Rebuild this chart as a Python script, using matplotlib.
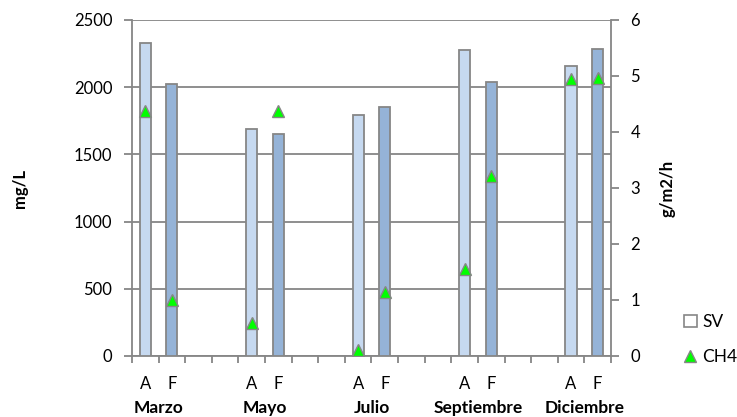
import matplotlib
matplotlib.use("Agg")
import matplotlib.pyplot as plt
from matplotlib.lines import Line2D
from matplotlib.patches import Patch
import numpy as np

plt.rcParams['font.family'] = ['Lato', 'DejaVu Sans']

# Sampling campaigns, each with an A and an F sample
months = ['Marzo', 'Mayo', 'Julio', 'Septiembre', 'Diciembre']
sample_labels = ['A', 'F']
sv_a = [2325, 1685, 1790, 2275, 2155]      # mg/L
sv_f = [2025, 1648, 1850, 2040, 2282]      # mg/L
ch4_a = [4.37, 0.59, 0.10, 1.55, 4.95]     # g/m2/h
ch4_f = [1.00, 4.38, 1.15, 3.22, 4.97]     # g/m2/h

GREY = '#868686'
slots_per_group = 4
n_slots = slots_per_group * (len(months) - 1) + 2

fig = plt.figure(figsize=(7.37, 4.17), dpi=100)
ax = fig.add_axes([0.179, 0.1463, 0.650, 0.806])

xa = np.arange(len(months)) * slots_per_group
xf = xa + 1
bw = 0.42
ax.bar(xa, sv_a, width=bw, color='#C6D9F0', edgecolor=GREY, linewidth=1.3, zorder=3)
ax.bar(xf, sv_f, width=bw, color='#95B3D7', edgecolor=GREY, linewidth=1.3, zorder=3)

ax.set_xlim(-0.5, n_slots - 0.5)
ax.set_ylim(0, 2500)
ax.set_yticks(np.arange(0, 2501, 500))
ax.yaxis.grid(True, color=GREY, linewidth=1.3, zorder=0)
ax.set_axisbelow(True)

# Category ticks: labels at slot centres, marks at slot boundaries
tick_labels = [''] * n_slots
for i in range(len(months)):
    tick_labels[xa[i]] = sample_labels[0]
    tick_labels[xf[i]] = sample_labels[1]
ax.set_xticks(np.arange(n_slots))
ax.set_xticklabels(tick_labels, fontsize=12)
ax.set_xticks(np.arange(n_slots + 1) - 0.5, minor=True)
ax.tick_params(axis='x', which='major', length=0, pad=14.5)
ax.tick_params(axis='x', which='minor', length=5, width=1.3, color=GREY, direction='out')
ax.tick_params(axis='y', length=6, width=1.3, color=GREY, labelsize=12, pad=8)

for s in ['left', 'bottom', 'right']:
    ax.spines[s].set_color(GREY)
    ax.spines[s].set_linewidth(1.3)
ax.spines['top'].set_visible(False)

for i, m in enumerate(months):
    ax.text((xa[i] + xf[i]) / 2, -0.155, m, transform=ax.get_xaxis_transform(),
            ha='center', va='center', fontsize=12.5, fontweight='bold')

ax.set_ylabel('mg/L', fontsize=12, fontweight='bold')
ax.yaxis.set_label_coords(-0.217, 0.5)

ax2 = ax.twinx()
ax2.set_ylim(0, 6)
ax2.set_yticks(np.arange(0, 7, 1))
ax2.plot(xa, ch4_a, linestyle='none', marker='^', markersize=9,
         markerfacecolor='#00FF00', markeredgecolor=GREY, markeredgewidth=1, zorder=5)
ax2.plot(xf, ch4_f, linestyle='none', marker='^', markersize=9,
         markerfacecolor='#00FF00', markeredgecolor=GREY, markeredgewidth=1, zorder=5)
ax2.tick_params(axis='y', length=6, width=1.3, color=GREY, labelsize=12, pad=8)
for s in ['left', 'bottom', 'right', 'top']:
    ax2.spines[s].set_visible(False)
ax2.set_ylabel('g/m2/h', fontsize=12, fontweight='bold')
ax2.yaxis.set_label_coords(1.102, 0.5)

handles = [Patch(facecolor='white', edgecolor=GREY, linewidth=1.2),
           Line2D([], [], linestyle='none', marker='^', markersize=9,
                  markerfacecolor='#00FF00', markeredgecolor=GREY)]
fig.legend(handles, ['SV', 'CH4'], loc='center left', bbox_to_anchor=(0.918, 0.186),
           frameon=False, fontsize=12.5, handlelength=0.8, handletextpad=0.3,
           labelspacing=1.1, borderaxespad=0)

fig.savefig('out.png', dpi=100)
